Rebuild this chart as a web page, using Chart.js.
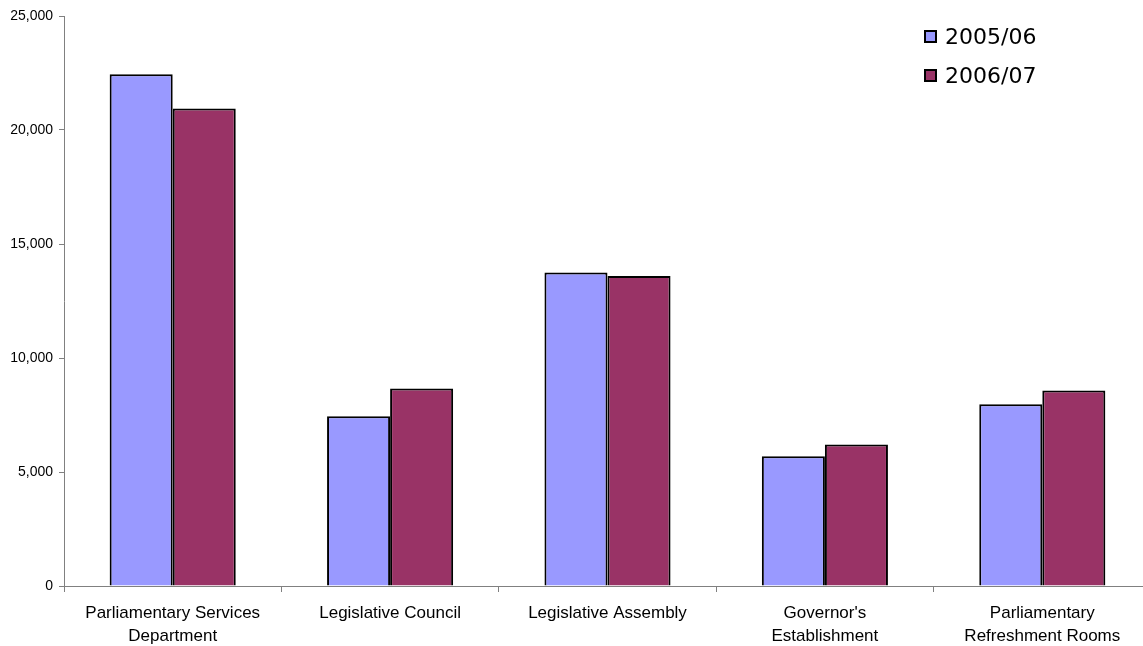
<!DOCTYPE html>
<html>
<head>
<meta charset="utf-8">
<script src="https://cdn.jsdelivr.net/npm/chart.js@4/dist/chart.umd.min.js"></script>
<style>
  body { margin: 0; background: #fff; }
  #wrap { position: relative; width: 1143px; height: 646px; overflow: hidden; }
  #chart { position: absolute; left: 0; top: 0; }
  #legend { position: absolute; left: 924px; top: 22px; font-family: "DejaVu Sans", sans-serif; font-size: 22px; color: #000; }
  #legend div { height: 39px; line-height: 30px; white-space: nowrap; }
  #legend span.box { display: inline-block; width: 9px; height: 9px; border: 2px solid #000; margin-right: 8px; vertical-align: 1px; }
</style>
</head>
<body>
<div id="wrap">
  <canvas id="chart" width="1151" height="646"></canvas>
  <div id="legend"></div>
</div>
<script>
const categories = [
    ['Parliamentary Services', 'Department'],
    'Legislative Council',
    'Legislative Assembly',
    ["Governor's", 'Establishment'],
    ['Parliamentary', 'Refreshment Rooms']
];
const years = ['2005/06', '2006/07'];
const values0506 = [22450, 7440, 13750, 5690, 7970];
const values0607 = [20940, 8660, 13600, 6210, 8580];
const colors = ['#9999ff', '#993366'];

const datasets = [values0506, values0607].map((vals, i) => ({
    label: years[i],
    data: vals,
    backgroundColor: colors[i],
    borderColor: '#000',
    borderWidth: 2,
    barPercentage: 1.0,
    categoryPercentage: 0.58
}));

// legend in the top right corner
const legend = document.getElementById('legend');
datasets.forEach(ds => {
    const row = document.createElement('div');
    row.innerHTML = `<span class="box" style="background:${ds.backgroundColor}"></span>${ds.label}`;
    legend.appendChild(row);
});

const ctx = document.getElementById('chart').getContext('2d');
new Chart(ctx, {
    type: 'bar',
    data: { labels: categories, datasets: datasets },
    options: {
        responsive: false,
        animation: false,
        layout: { padding: { top: 16, right: 0, left: 0, bottom: 0 } },
        plugins: {
            legend: { display: false },
            tooltip: { enabled: false }
        },
        scales: {
            x: {
                grid: { display: true, drawOnChartArea: false, tickLength: 6, color: '#808080', offset: true },
                border: { color: '#808080', width: 1 },
                ticks: {
                    color: '#000',
                    font: { family: 'Liberation Sans, Arial, sans-serif', size: 17, lineHeight: 1.35 },
                    padding: 10,
                    maxRotation: 0,
                    autoSkip: false
                },
                afterFit: scale => { scale.height = 60; }
            },
            y: {
                min: 0,
                max: 25000,
                ticks: {
                    stepSize: 5000,
                    color: '#000',
                    padding: 6,
                    font: { family: 'Liberation Sans, Arial, sans-serif', size: 14 },
                    callback: v => v.toLocaleString('en-US')
                },
                grid: { display: true, drawOnChartArea: false, tickLength: 5, color: '#808080' },
                border: { color: '#808080', width: 1 },
                afterFit: scale => { scale.width = 64; }
            }
        }
    }
});
</script>
</body>
</html>
